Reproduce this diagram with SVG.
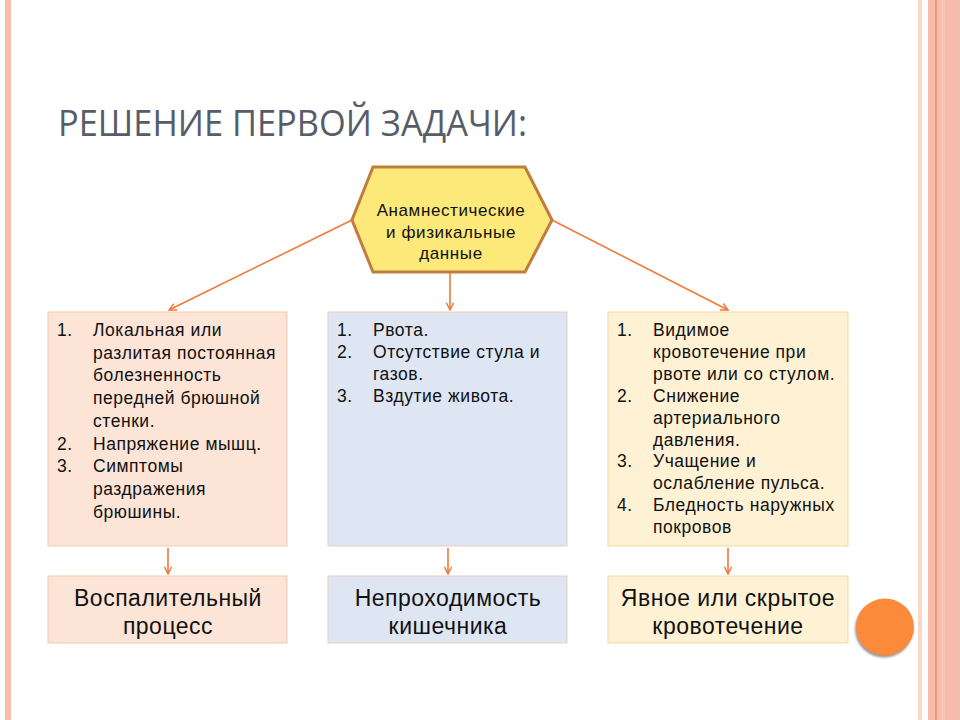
<svg xmlns="http://www.w3.org/2000/svg" width="960" height="720" viewBox="0 0 960 720">
<defs>
<style>
.t{font-family:"Liberation Sans",Arial,sans-serif;fill:#111;}
.li{font-size:17.5px;letter-spacing:0.55px;}
.big{font-size:23px;text-anchor:middle;letter-spacing:0.5px;}
.hx{font-size:17px;text-anchor:middle;letter-spacing:0.6px;}
.con{stroke:#ef7a3a;stroke-width:1.6;fill:none;marker-end:url(#ah);}
</style>
<marker id="ah" viewBox="0 0 10 10" refX="9" refY="5" markerWidth="9" markerHeight="9" markerUnits="userSpaceOnUse" orient="auto">
<path d="M1,1 L9,5 L1,9" fill="none" stroke="#ef7a3a" stroke-width="1.6"/>
</marker>
<filter id="sh" x="-20%" y="-20%" width="140%" height="140%">
<feDropShadow dx="-1" dy="2" stdDeviation="0.8" flood-color="#888" flood-opacity="0.9"/>
</filter>
</defs>
<rect width="960" height="720" fill="#ffffff"/>
<g id="decor">
<rect x="5" y="0" width="6" height="720" fill="#fbbcaa"/>
<rect x="918" y="0" width="4" height="720" fill="#fdd6c6"/>
<rect x="928" y="0" width="32" height="720" fill="#f4bca9"/>
<rect x="935" y="0" width="2" height="720" fill="#ee9a7a"/>
<rect x="941" y="0" width="4" height="720" fill="#f6c6b4"/>
<ellipse cx="885" cy="627" rx="29" ry="28.5" fill="#fb8a3a" filter="url(#sh)"/>
</g>
<g id="title">
<text x="58" y="136" font-family="'Open Sans','Noto Sans',sans-serif" font-size="36" fill="#575d68" textLength="469" lengthAdjust="spacingAndGlyphs">РЕШЕНИЕ ПЕРВОЙ ЗАДАЧИ:</text>
</g>
<g id="connectors">
<line class="con" x1="352" y1="220" x2="169" y2="310"/>
<line class="con" x1="450" y1="273" x2="450" y2="310"/>
<line class="con" x1="552" y1="220" x2="728" y2="310"/>
<line class="con" x1="168" y1="548" x2="168" y2="574"/>
<line class="con" x1="448" y1="548" x2="448" y2="574"/>
<line class="con" x1="728" y1="548" x2="728" y2="574"/>
</g>
<g id="hexagon">
<polygon points="373,167 525,167 552,220 525,272 373,272 352,220" fill="#fde87a" stroke="#c27c3c" stroke-width="3"/>
<text class="t hx" x="451" y="216">Анамнестические</text>
<text class="t hx" x="451" y="237.5">и физикальные</text>
<text class="t hx" x="451" y="259">данные</text>
</g>
<g id="list-left">
<rect x="48" y="312" width="239" height="234" fill="#fce4d6" stroke="#f5c9ae" stroke-width="1"/>
<g class="t li">
<text x="57" y="336">1.</text><text x="93" y="336">Локальная или</text>
<text x="93" y="358.7">разлитая постоянная</text>
<text x="93" y="381.4">болезненность</text>
<text x="93" y="404.1">передней брюшной</text>
<text x="93" y="426.8">стенки.</text>
<text x="57" y="449.5">2.</text><text x="93" y="449.5">Напряжение мышц.</text>
<text x="57" y="472.2">3.</text><text x="93" y="472.2">Симптомы</text>
<text x="93" y="494.9">раздражения</text>
<text x="93" y="517.6">брюшины.</text>
</g>
</g>
<g id="list-middle">
<rect x="328" y="312" width="239" height="234" fill="#dee6f4" stroke="#efcdbb" stroke-width="1"/>
<g class="t li">
<text x="337" y="336">1.</text><text x="373" y="336">Рвота.</text>
<text x="337" y="358">2.</text><text x="373" y="358">Отсутствие стула и</text>
<text x="373" y="380">газов.</text>
<text x="337" y="402">3.</text><text x="373" y="402">Вздутие живота.</text>
</g>
</g>
<g id="list-right">
<rect x="608" y="312" width="240" height="234" fill="#fff2d4" stroke="#f3d9a6" stroke-width="1"/>
<g class="t li">
<text x="617" y="336">1.</text><text x="653" y="336">Видимое</text>
<text x="653" y="357.9">кровотечение при</text>
<text x="653" y="379.8">рвоте или со стулом.</text>
<text x="617" y="401.7">2.</text><text x="653" y="401.7">Снижение</text>
<text x="653" y="423.6">артериального</text>
<text x="653" y="445.5">давления.</text>
<text x="617" y="467.4">3.</text><text x="653" y="467.4">Учащение и</text>
<text x="653" y="489.3">ослабление пульса.</text>
<text x="617" y="511.2">4.</text><text x="653" y="511.2">Бледность наружных</text>
<text x="653" y="533.1">покровов</text>
</g>
</g>
<g id="result-left">
<rect x="48" y="576" width="239" height="67" fill="#fce4d6" stroke="#f5c9ae" stroke-width="1"/>
<text class="t big" x="168" y="606">Воспалительный</text>
<text class="t big" x="168" y="634">процесс</text>
</g>
<g id="result-middle">
<rect x="328" y="576" width="239" height="67" fill="#dee6f4" stroke="#efcdbb" stroke-width="1"/>
<text class="t big" x="448" y="606">Непроходимость</text>
<text class="t big" x="448" y="634">кишечника</text>
</g>
<g id="result-right">
<rect x="608" y="576" width="240" height="67" fill="#fff2d4" stroke="#f3d9a6" stroke-width="1"/>
<text class="t big" x="728" y="606">Явное или скрытое</text>
<text class="t big" x="728" y="634">кровотечение</text>
</g>
</svg>
